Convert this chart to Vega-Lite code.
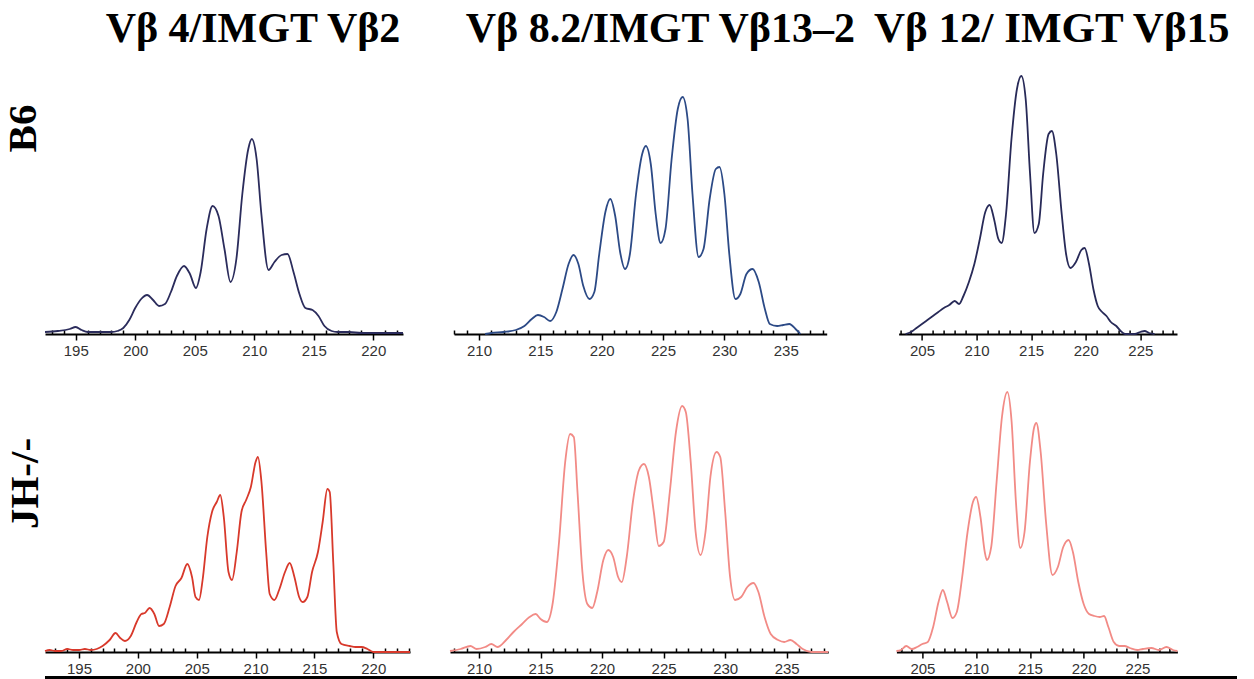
{
  "$schema": "https://vega.github.io/schema/vega-lite/v6.json",
  "autosize": "none",
  "padding": {"left": 45, "top": 60, "right": 1209, "bottom": 619},
  "background": "white",
  "config": {
    "view": {"stroke": null},
    "axisX": {
      "labelExpr": "datum.value % 5 === 0 ? datum.label : ''",
      "tickSize": {"condition": {"test": "datum.value % 5 === 0", "value": 6}, "value": -4},
      "domainColor": "black",
      "domainWidth": 2,
      "tickColor": "black",
      "tickWidth": 1.5,
      "labelFont": "Liberation Sans",
      "labelFontSize": 15,
      "labelColor": "#333333",
      "labelPadding": 3,
      "labelOverlap": false,
      "labelFlush": false,
      "grid": false,
      "title": null
    },
    "title": {"font": "Liberation Serif", "fontSize": 42, "fontWeight": "bold", "color": "black", "baseline": "alphabetic", "offset": 9, "anchor": "middle"}
  },
  "datasets": {
    "v4b6": [
      {"size": 192.42, "intensity": 2}, {"size": 193.5, "intensity": 3}, {"size": 194.5, "intensity": 5}, {"size": 195.0, "intensity": 7}, {"size": 195.5, "intensity": 4}, {"size": 196, "intensity": 2}, {"size": 197, "intensity": 2}, {"size": 198, "intensity": 2}, {"size": 198.5, "intensity": 3}, {"size": 199, "intensity": 6}, {"size": 199.5, "intensity": 14}, {"size": 200, "intensity": 26}, {"size": 200.5, "intensity": 35}, {"size": 201, "intensity": 39}, {"size": 201.5, "intensity": 34}, {"size": 202, "intensity": 28}, {"size": 202.5, "intensity": 30}, {"size": 203, "intensity": 42}, {"size": 203.5, "intensity": 58}, {"size": 204.1, "intensity": 68}, {"size": 204.6, "intensity": 60}, {"size": 205.1, "intensity": 46}, {"size": 205.5, "intensity": 62}, {"size": 206, "intensity": 105}, {"size": 206.5, "intensity": 128}, {"size": 207, "intensity": 118}, {"size": 207.5, "intensity": 85}, {"size": 208, "intensity": 52}, {"size": 208.5, "intensity": 75}, {"size": 209, "intensity": 140}, {"size": 209.5, "intensity": 185}, {"size": 209.8, "intensity": 195}, {"size": 210.2, "intensity": 175}, {"size": 210.6, "intensity": 120}, {"size": 211.2, "intensity": 64}, {"size": 211.7, "intensity": 72}, {"size": 212.3, "intensity": 79}, {"size": 212.8, "intensity": 80}, {"size": 213.3, "intensity": 62}, {"size": 213.8, "intensity": 40}, {"size": 214.3, "intensity": 26}, {"size": 214.9, "intensity": 24}, {"size": 215.4, "intensity": 18}, {"size": 215.9, "intensity": 8}, {"size": 216.5, "intensity": 3}, {"size": 217, "intensity": 2}, {"size": 218, "intensity": 2}, {"size": 219, "intensity": 1}, {"size": 220, "intensity": 1}, {"size": 221, "intensity": 1}, {"size": 222.5, "intensity": 1}
    ],
    "v82b6": [
      {"size": 210.5, "intensity": 0}, {"size": 211, "intensity": 1}, {"size": 212, "intensity": 2}, {"size": 213, "intensity": 4}, {"size": 213.7, "intensity": 8}, {"size": 214.3, "intensity": 15}, {"size": 214.8, "intensity": 19}, {"size": 215.3, "intensity": 17}, {"size": 215.8, "intensity": 13}, {"size": 216.3, "intensity": 22}, {"size": 216.8, "intensity": 45}, {"size": 217.3, "intensity": 70}, {"size": 217.7, "intensity": 79}, {"size": 218.1, "intensity": 70}, {"size": 218.5, "intensity": 48}, {"size": 219, "intensity": 35}, {"size": 219.4, "intensity": 42}, {"size": 219.8, "intensity": 80}, {"size": 220.3, "intensity": 122}, {"size": 220.7, "intensity": 135}, {"size": 221.1, "intensity": 118}, {"size": 221.5, "intensity": 82}, {"size": 221.9, "intensity": 65}, {"size": 222.3, "intensity": 80}, {"size": 222.8, "intensity": 140}, {"size": 223.3, "intensity": 180}, {"size": 223.6, "intensity": 188}, {"size": 224, "intensity": 170}, {"size": 224.4, "intensity": 120}, {"size": 224.8, "intensity": 91}, {"size": 225.2, "intensity": 105}, {"size": 225.7, "intensity": 175}, {"size": 226.2, "intensity": 225}, {"size": 226.6, "intensity": 237}, {"size": 227, "intensity": 215}, {"size": 227.4, "intensity": 140}, {"size": 227.9, "intensity": 77}, {"size": 228.3, "intensity": 85}, {"size": 228.8, "intensity": 135}, {"size": 229.3, "intensity": 165}, {"size": 229.6, "intensity": 167}, {"size": 230, "intensity": 140}, {"size": 230.4, "intensity": 80}, {"size": 230.9, "intensity": 35}, {"size": 231.3, "intensity": 40}, {"size": 231.8, "intensity": 60}, {"size": 232.3, "intensity": 65}, {"size": 232.8, "intensity": 52}, {"size": 233.3, "intensity": 25}, {"size": 233.7, "intensity": 10}, {"size": 234.3, "intensity": 8}, {"size": 234.8, "intensity": 9}, {"size": 235.3, "intensity": 10}, {"size": 235.8, "intensity": 5}, {"size": 236.2, "intensity": 0}
    ],
    "v12b6": [
      {"size": 203.5, "intensity": 0}, {"size": 204, "intensity": 2}, {"size": 204.5, "intensity": 6}, {"size": 205, "intensity": 10}, {"size": 205.5, "intensity": 14}, {"size": 206, "intensity": 18}, {"size": 206.5, "intensity": 22}, {"size": 207, "intensity": 26}, {"size": 207.5, "intensity": 29}, {"size": 208, "intensity": 33}, {"size": 208.4, "intensity": 30}, {"size": 208.8, "intensity": 38}, {"size": 209.3, "intensity": 52}, {"size": 209.8, "intensity": 70}, {"size": 210.3, "intensity": 95}, {"size": 210.8, "intensity": 122}, {"size": 211.2, "intensity": 129}, {"size": 211.6, "intensity": 115}, {"size": 212, "intensity": 95}, {"size": 212.3, "intensity": 91}, {"size": 212.7, "intensity": 120}, {"size": 213.2, "intensity": 195}, {"size": 213.7, "intensity": 245}, {"size": 214.1, "intensity": 258}, {"size": 214.5, "intensity": 235}, {"size": 214.9, "intensity": 160}, {"size": 215.3, "intensity": 101}, {"size": 215.7, "intensity": 110}, {"size": 216.1, "intensity": 160}, {"size": 216.6, "intensity": 200}, {"size": 216.9, "intensity": 203}, {"size": 217.3, "intensity": 180}, {"size": 217.8, "intensity": 120}, {"size": 218.2, "intensity": 80}, {"size": 218.6, "intensity": 66}, {"size": 219.1, "intensity": 72}, {"size": 219.6, "intensity": 84}, {"size": 219.9, "intensity": 86}, {"size": 220.3, "intensity": 70}, {"size": 220.7, "intensity": 45}, {"size": 221.1, "intensity": 28}, {"size": 221.5, "intensity": 22}, {"size": 221.9, "intensity": 18}, {"size": 222.3, "intensity": 12}, {"size": 222.8, "intensity": 8}, {"size": 223.2, "intensity": 3}, {"size": 223.6, "intensity": 0}, {"size": 224.5, "intensity": 0}, {"size": 225, "intensity": 2}, {"size": 225.4, "intensity": 3}, {"size": 225.8, "intensity": 1}, {"size": 226.3, "intensity": 0}
    ],
    "v4jh": [
      {"size": 192.11, "intensity": 1}, {"size": 192.5, "intensity": 2}, {"size": 193, "intensity": 1}, {"size": 193.5, "intensity": 1}, {"size": 194, "intensity": 3}, {"size": 194.5, "intensity": 2}, {"size": 195, "intensity": 2}, {"size": 195.5, "intensity": 3}, {"size": 196, "intensity": 2}, {"size": 196.5, "intensity": 3}, {"size": 197, "intensity": 6}, {"size": 197.6, "intensity": 12}, {"size": 198.1, "intensity": 19}, {"size": 198.5, "intensity": 14}, {"size": 198.9, "intensity": 11}, {"size": 199.4, "intensity": 16}, {"size": 199.9, "intensity": 30}, {"size": 200.3, "intensity": 38}, {"size": 200.6, "intensity": 39}, {"size": 201, "intensity": 44}, {"size": 201.4, "intensity": 38}, {"size": 201.8, "intensity": 26}, {"size": 202.2, "intensity": 28}, {"size": 202.7, "intensity": 45}, {"size": 203.2, "intensity": 66}, {"size": 203.7, "intensity": 74}, {"size": 204.2, "intensity": 88}, {"size": 204.6, "intensity": 75}, {"size": 204.9, "intensity": 55}, {"size": 205.2, "intensity": 52}, {"size": 205.5, "intensity": 72}, {"size": 205.9, "intensity": 115}, {"size": 206.3, "intensity": 140}, {"size": 206.7, "intensity": 150}, {"size": 207, "intensity": 157}, {"size": 207.3, "intensity": 135}, {"size": 207.7, "intensity": 80}, {"size": 208, "intensity": 72}, {"size": 208.4, "intensity": 100}, {"size": 208.8, "intensity": 140}, {"size": 209.2, "intensity": 152}, {"size": 209.6, "intensity": 165}, {"size": 210, "intensity": 190}, {"size": 210.2, "intensity": 195}, {"size": 210.5, "intensity": 170}, {"size": 210.9, "intensity": 100}, {"size": 211.2, "intensity": 58}, {"size": 211.6, "intensity": 52}, {"size": 212, "intensity": 62}, {"size": 212.5, "intensity": 80}, {"size": 212.9, "intensity": 89}, {"size": 213.3, "intensity": 75}, {"size": 213.7, "intensity": 55}, {"size": 214, "intensity": 50}, {"size": 214.4, "intensity": 55}, {"size": 214.8, "intensity": 80}, {"size": 215.3, "intensity": 100}, {"size": 215.7, "intensity": 130}, {"size": 216.1, "intensity": 163}, {"size": 216.3, "intensity": 160}, {"size": 216.6, "intensity": 90}, {"size": 216.9, "intensity": 20}, {"size": 217.3, "intensity": 8}, {"size": 218, "intensity": 6}, {"size": 218.5, "intensity": 5}, {"size": 219, "intensity": 5}, {"size": 219.5, "intensity": 3}, {"size": 220, "intensity": 0}, {"size": 221, "intensity": 0}, {"size": 223.12, "intensity": 0}
    ],
    "v82jh": [
      {"size": 207.64, "intensity": 1}, {"size": 208.5, "intensity": 3}, {"size": 209.3, "intensity": 6}, {"size": 209.8, "intensity": 3}, {"size": 210.5, "intensity": 5}, {"size": 211, "intensity": 8}, {"size": 211.5, "intensity": 5}, {"size": 212.2, "intensity": 12}, {"size": 212.8, "intensity": 20}, {"size": 213.5, "intensity": 28}, {"size": 214.1, "intensity": 35}, {"size": 214.6, "intensity": 38}, {"size": 215, "intensity": 33}, {"size": 215.5, "intensity": 30}, {"size": 216, "intensity": 50}, {"size": 216.5, "intensity": 110}, {"size": 217, "intensity": 190}, {"size": 217.4, "intensity": 218}, {"size": 217.7, "intensity": 215}, {"size": 218, "intensity": 160}, {"size": 218.4, "intensity": 80}, {"size": 218.8, "intensity": 48}, {"size": 219.2, "intensity": 44}, {"size": 219.6, "intensity": 60}, {"size": 220.1, "intensity": 92}, {"size": 220.5, "intensity": 102}, {"size": 220.9, "intensity": 95}, {"size": 221.3, "intensity": 75}, {"size": 221.6, "intensity": 70}, {"size": 222, "intensity": 95}, {"size": 222.5, "intensity": 150}, {"size": 223, "intensity": 182}, {"size": 223.4, "intensity": 188}, {"size": 223.8, "intensity": 175}, {"size": 224.2, "intensity": 140}, {"size": 224.6, "intensity": 106}, {"size": 225, "intensity": 110}, {"size": 225.5, "intensity": 160}, {"size": 226, "intensity": 220}, {"size": 226.5, "intensity": 246}, {"size": 226.8, "intensity": 240}, {"size": 227.2, "intensity": 190}, {"size": 227.6, "intensity": 120}, {"size": 228, "intensity": 97}, {"size": 228.4, "intensity": 120}, {"size": 228.8, "intensity": 175}, {"size": 229.3, "intensity": 200}, {"size": 229.6, "intensity": 195}, {"size": 230, "intensity": 140}, {"size": 230.4, "intensity": 75}, {"size": 230.8, "intensity": 52}, {"size": 231.3, "intensity": 55}, {"size": 231.8, "intensity": 65}, {"size": 232.3, "intensity": 69}, {"size": 232.7, "intensity": 60}, {"size": 233.2, "intensity": 35}, {"size": 233.7, "intensity": 18}, {"size": 234.3, "intensity": 12}, {"size": 234.8, "intensity": 10}, {"size": 235.3, "intensity": 12}, {"size": 235.8, "intensity": 8}, {"size": 236.3, "intensity": 3}, {"size": 237, "intensity": 0}, {"size": 238.38, "intensity": 0}
    ],
    "v12jh": [
      {"size": 202.58, "intensity": 1}, {"size": 203, "intensity": 2}, {"size": 203.5, "intensity": 6}, {"size": 204, "intensity": 3}, {"size": 204.5, "intensity": 5}, {"size": 205, "intensity": 8}, {"size": 205.5, "intensity": 10}, {"size": 206, "intensity": 25}, {"size": 206.5, "intensity": 50}, {"size": 206.9, "intensity": 62}, {"size": 207.3, "intensity": 50}, {"size": 207.8, "intensity": 34}, {"size": 208.2, "intensity": 40}, {"size": 208.7, "intensity": 75}, {"size": 209.2, "intensity": 120}, {"size": 209.7, "intensity": 150}, {"size": 210, "intensity": 155}, {"size": 210.4, "intensity": 135}, {"size": 210.8, "intensity": 100}, {"size": 211, "intensity": 92}, {"size": 211.4, "intensity": 105}, {"size": 211.9, "intensity": 170}, {"size": 212.4, "intensity": 235}, {"size": 212.9, "intensity": 260}, {"size": 213.3, "intensity": 230}, {"size": 213.7, "intensity": 150}, {"size": 214.1, "intensity": 104}, {"size": 214.5, "intensity": 120}, {"size": 215, "intensity": 190}, {"size": 215.4, "intensity": 225}, {"size": 215.6, "intensity": 229}, {"size": 216, "intensity": 200}, {"size": 216.5, "intensity": 130}, {"size": 217.1, "intensity": 77}, {"size": 217.6, "intensity": 85}, {"size": 218.1, "intensity": 105}, {"size": 218.6, "intensity": 112}, {"size": 219, "intensity": 100}, {"size": 219.5, "intensity": 70}, {"size": 220, "intensity": 48}, {"size": 220.5, "intensity": 38}, {"size": 221, "intensity": 36}, {"size": 221.5, "intensity": 35}, {"size": 221.9, "intensity": 36}, {"size": 222.3, "intensity": 25}, {"size": 222.8, "intensity": 10}, {"size": 223.3, "intensity": 6}, {"size": 223.8, "intensity": 6}, {"size": 224.3, "intensity": 4}, {"size": 225, "intensity": 2}, {"size": 225.5, "intensity": 3}, {"size": 226.3, "intensity": 4}, {"size": 227, "intensity": 2}, {"size": 227.7, "intensity": 5}, {"size": 228.3, "intensity": 2}, {"size": 228.72, "intensity": 1}
    ]
  },
  "vconcat": [
    {
      "spacing": 17,
      "bounds": "full",
      "vconcat": [
        {
          "bounds": "flush",
          "spacing": 51,
          "hconcat": [
            {
              "width": 358, "height": 274,
              "data": {"name": "v4b6"},
              "title": {"text": "Vβ 4/IMGT Vβ2", "dx": 29},
              "mark": {"type": "line", "color": "#2b2c5c", "strokeWidth": 1.8, "interpolate": "monotone"},
              "encoding": {
                "x": {"field": "size", "type": "quantitative", "scale": {"domain": [192.42, 222.5], "nice": false, "zero": false},
                      "axis": {"values": [193,194,195,196,197,198,199,200,201,202,203,204,205,206,207,208,209,210,211,212,213,214,215,216,217,218,219,220,221,222]}},
                "y": {"field": "intensity", "type": "quantitative", "scale": {"domain": [0, 274], "nice": false},
                      "axis": {"title": "B6", "labels": false, "ticks": false, "domain": false, "grid": false, "titleFont": "Liberation Serif", "titleFontSize": 41, "titleFontWeight": "bold", "titleColor": "black", "titleAngle": -90, "titleAlign": "center", "titleBaseline": "alphabetic", "titleX": -10, "titleY": 68}}
              }
            },
            {
              "bounds": "flush",
              "spacing": 71.6,
              "hconcat": [
                {
                  "width": 372.7, "height": 274,
                  "data": {"name": "v82b6"},
                  "title": {"text": "Vβ 8.2/IMGT Vβ13–2", "dx": 20},
                  "mark": {"type": "line", "color": "#2c4a86", "strokeWidth": 1.8, "interpolate": "monotone"},
                  "encoding": {
                    "x": {"field": "size", "type": "quantitative", "scale": {"domain": [207.96, 238.34], "nice": false, "zero": false},
                          "axis": {"values": [208,209,210,211,212,213,214,215,216,217,218,219,220,221,222,223,224,225,226,227,228,229,230,231,232,233,234,235,236,237,238]}},
                    "y": {"field": "intensity", "type": "quantitative", "scale": {"domain": [0, 274], "nice": false}, "axis": null}
                  }
                },
                {
                  "width": 278.4, "height": 274,
                  "data": {"name": "v12b6"},
                  "title": {"text": "Vβ 12/ IMGT Vβ15", "dx": 14, "fontSize": 43},
                  "mark": {"type": "line", "color": "#282a58", "strokeWidth": 1.8, "interpolate": "monotone"},
                  "encoding": {
                    "x": {"field": "size", "type": "quantitative", "scale": {"domain": [202.86, 228.36], "nice": false, "zero": false},
                          "axis": {"values": [203,204,205,206,207,208,209,210,211,212,213,214,215,216,217,218,219,220,221,222,223,224,225,226,227,228]}},
                    "y": {"field": "intensity", "type": "quantitative", "scale": {"domain": [0, 274], "nice": false}, "axis": null}
                  }
                }
              ]
            }
          ]
        },
        {
          "bounds": "flush",
          "spacing": 40,
          "hconcat": [
            {
              "width": 365, "height": 277,
              "data": {"name": "v4jh"},
              "mark": {"type": "line", "color": "#d8392b", "strokeWidth": 1.8, "interpolate": "monotone"},
              "encoding": {
                "x": {"field": "size", "type": "quantitative", "scale": {"domain": [192.11, 223.12], "nice": false, "zero": false},
                      "axis": {"values": [193,194,195,196,197,198,199,200,201,202,203,204,205,206,207,208,209,210,211,212,213,214,215,216,217,218,219,220,221,222,223]}},
                "y": {"field": "intensity", "type": "quantitative", "scale": {"domain": [0, 277], "nice": false},
                      "axis": {"title": "JH-/-", "labels": false, "ticks": false, "domain": false, "grid": false, "titleFont": "Liberation Serif", "titleFontSize": 41, "titleFontWeight": "bold", "titleColor": "black", "titleAngle": -90, "titleAlign": "center", "titleBaseline": "alphabetic", "titleX": -8, "titleY": 108}}
              }
            },
            {
              "bounds": "flush",
              "spacing": 67.4,
              "hconcat": [
                {
                  "width": 378.3, "height": 277,
                  "data": {"name": "v82jh"},
                  "mark": {"type": "line", "color": "#f28b86", "strokeWidth": 1.8, "interpolate": "monotone"},
                  "encoding": {
                    "x": {"field": "size", "type": "quantitative", "scale": {"domain": [207.64, 238.38], "nice": false, "zero": false},
                          "axis": {"values": [208,209,210,211,212,213,214,215,216,217,218,219,220,221,222,223,224,225,226,227,228,229,230,231,232,233,234,235,236,237,238]}},
                    "y": {"field": "intensity", "type": "quantitative", "scale": {"domain": [0, 277], "nice": false}, "axis": null}
                  }
                },
                {
                  "width": 281, "height": 277,
                  "data": {"name": "v12jh"},
                  "mark": {"type": "line", "color": "#f28b86", "strokeWidth": 1.8, "interpolate": "monotone"},
                  "encoding": {
                    "x": {"field": "size", "type": "quantitative", "scale": {"domain": [202.58, 228.72], "nice": false, "zero": false},
                          "axis": {"values": [203,204,205,206,207,208,209,210,211,212,213,214,215,216,217,218,219,220,221,222,223,224,225,226,227,228]}},
                    "y": {"field": "intensity", "type": "quantitative", "scale": {"domain": [0, 277], "nice": false}, "axis": null}
                  }
                }
              ]
            }
          ]
        }
      ]
    },
    {
      "width": 1192, "height": 3,
      "view": {"fill": "black", "stroke": null},
      "data": {"values": []},
      "mark": {"type": "rule"},
      "encoding": {}
    }
  ],
  "spacing": 0,
  "bounds": "full"
}
